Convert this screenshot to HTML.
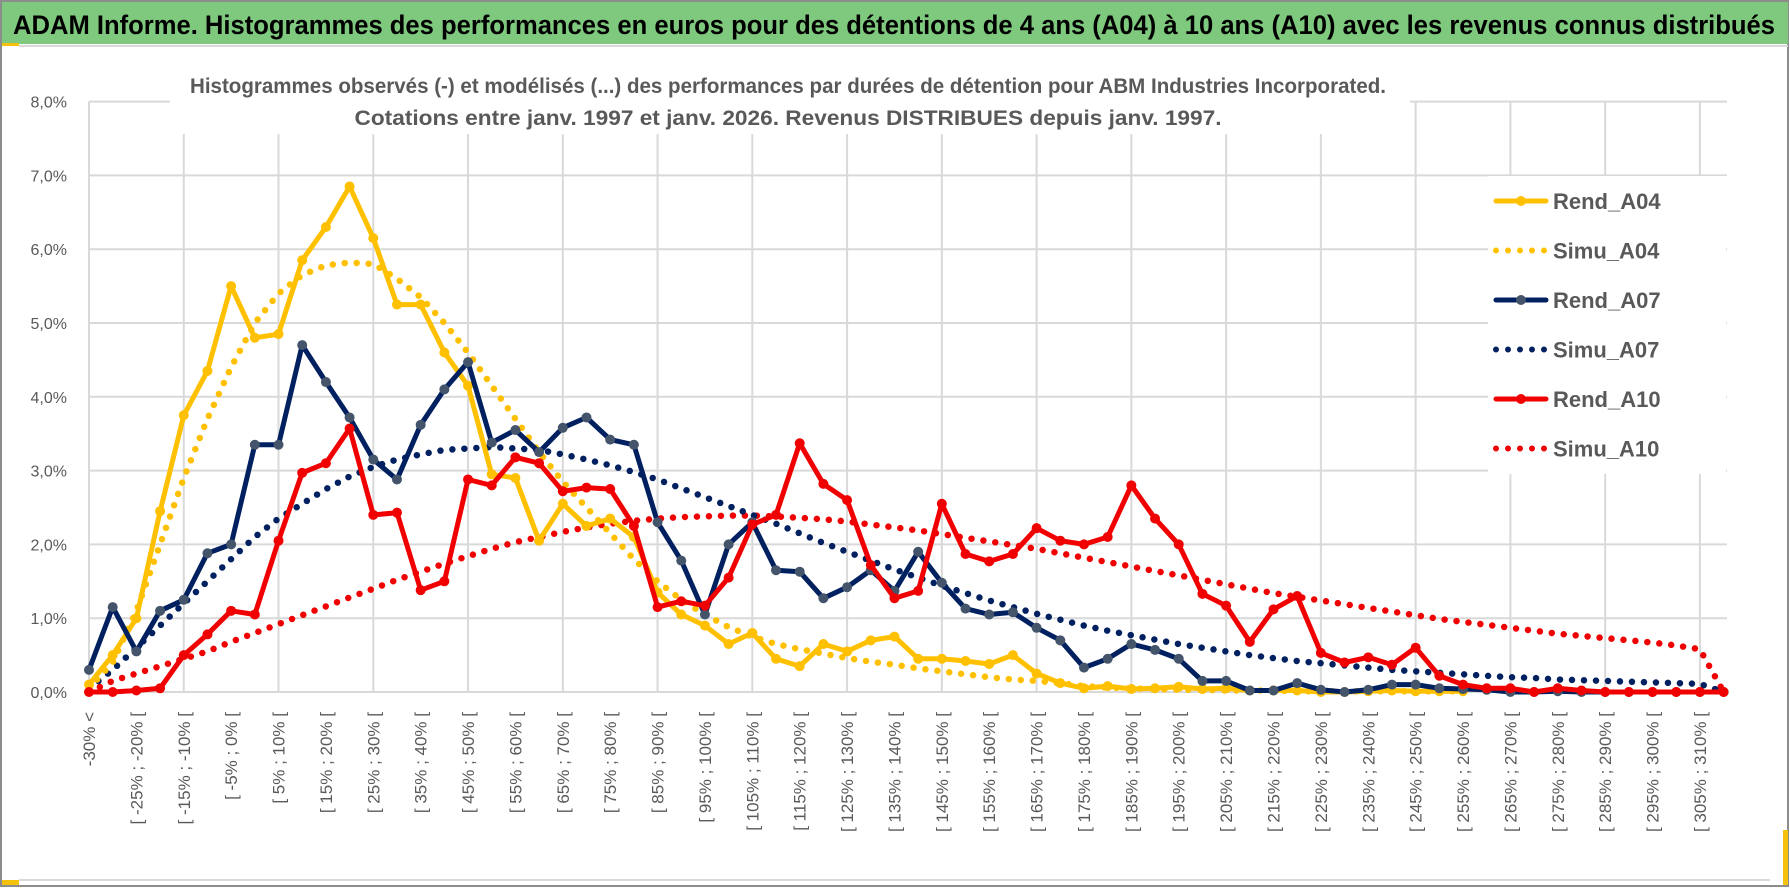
<!DOCTYPE html>
<html><head><meta charset="utf-8"><style>
body{margin:0;background:#fff;}
svg{display:block;font-family:"Liberation Sans",sans-serif;}
</style></head><body>
<svg id="chart" width="1790" height="888" viewBox="0 0 1790 888">
<rect x="0" y="0" width="1790" height="888" fill="#fff"/>
<rect x="1" y="1" width="1787" height="885" fill="none" stroke="#8c8c8c" stroke-width="2"/>
<rect x="2" y="2" width="1786" height="42" fill="#7fc97f"/>
<rect x="2" y="43" width="17" height="3" fill="#f4c20d"/>
<line x1="19" y1="46" x2="1788" y2="46" stroke="#d9d9d9" stroke-width="2"/>
<text x="13" y="34" font-size="27" font-weight="bold" fill="#000" textLength="1762" lengthAdjust="spacingAndGlyphs">ADAM Informe. Histogrammes des performances en euros pour des détentions de 4 ans (A04) à 10 ans (A10) avec les revenus connus distribués</text>
<line x1="19" y1="880" x2="1770" y2="880" stroke="#d9d9d9" stroke-width="2"/>
<rect x="2" y="880" width="17" height="5" fill="#f4c20d"/>
<rect x="1783" y="830" width="5" height="55" fill="#f4c20d"/>
<g id="grid"></g>
<g id="ylabels"></g>
<g id="xlabels"></g>
<rect x="170" y="66" width="1240" height="68" fill="#fff"/>
<text x="788" y="93" font-size="21" font-weight="bold" fill="#595959" text-anchor="middle" textLength="1196" lengthAdjust="spacingAndGlyphs">Histogrammes observés (-) et modélisés (...) des performances par durées de détention pour ABM Industries Incorporated.</text>
<text x="788" y="125" font-size="21" font-weight="bold" fill="#595959" text-anchor="middle" textLength="867" lengthAdjust="spacingAndGlyphs">Cotations entre janv. 1997 et janv. 2026. Revenus DISTRIBUES depuis janv. 1997.</text>
<g id="series"></g>
<g id="legend"></g>
</svg>
<script>
const categoriesCount = 70;
const yTicks = [0,1,2,3,4,5,6,7,8];
const rendA04 = [0.1,0.5,1.0,2.45,3.75,4.35,5.5,4.8,4.85,5.85,6.3,6.85,6.15,5.25,5.25,4.6,4.15,2.95,2.9,2.05,2.55,2.25,2.35,2.1,1.35,1.05,0.9,0.65,0.8,0.45,0.35,0.65,0.55,0.7,0.75,0.45,0.45,0.42,0.38,0.5,0.25,0.12,0.05,0.08,0.04,0.05,0.07,0.04,0.05,0.02,0.02,0.02,0,0,0.01,0.02,0.01,0.01,0.01];
const simuA04 = [0.05,0.4,1.1,2.0,2.9,3.7,4.4,5.0,5.4,5.65,5.78,5.82,5.8,5.6,5.35,5.0,4.6,4.15,3.7,3.25,2.85,2.5,2.15,1.8,1.5,1.25,1.05,0.88,0.75,0.65,0.58,0.52,0.46,0.41,0.37,0.32,0.28,0.24,0.2,0.17,0.15,0.12,0.08,0.06,0.05,0.04,0.03,0.03,0.02,0.02,0.02,0.01,0.01,0.01,0.01,0.01,0.01,0.01,0.01];
const rendA07 = [0.3,1.15,0.55,1.1,1.25,1.88,2.0,3.35,3.35,4.7,4.2,3.72,3.15,2.88,3.62,4.1,4.47,3.38,3.55,3.25,3.58,3.72,3.42,3.35,2.3,1.78,1.05,2.0,2.3,1.65,1.63,1.27,1.42,1.65,1.37,1.9,1.48,1.13,1.05,1.08,0.87,0.7,0.33,0.45,0.65,0.57,0.45,0.15,0.15,0.02,0.02,0.12,0.03,0,0.03,0.1,0.1,0.05,0.04,0.03,0,0,0.01,0,0,0,0,0,0,0];
const simuA07 = [0.05,0.3,0.6,0.9,1.2,1.5,1.8,2.1,2.35,2.55,2.75,2.92,3.05,3.15,3.22,3.28,3.3,3.32,3.3,3.28,3.22,3.15,3.07,2.98,2.88,2.76,2.64,2.52,2.4,2.28,2.15,2.02,1.9,1.78,1.66,1.55,1.44,1.34,1.24,1.15,1.06,0.98,0.9,0.83,0.77,0.71,0.65,0.6,0.55,0.5,0.46,0.42,0.39,0.36,0.33,0.3,0.28,0.26,0.24,0.22,0.2,0.19,0.17,0.16,0.15,0.14,0.13,0.12,0.11,0];
const rendA10 = [0,0,0.02,0.05,0.5,0.78,1.1,1.05,2.05,2.97,3.1,3.57,2.4,2.43,1.38,1.5,2.88,2.8,3.18,3.1,2.72,2.77,2.75,2.25,1.15,1.23,1.17,1.55,2.27,2.4,3.37,2.82,2.6,1.72,1.27,1.37,2.55,1.87,1.77,1.87,2.22,2.05,2.0,2.1,2.8,2.35,2.0,1.33,1.17,0.68,1.12,1.3,0.53,0.4,0.47,0.37,0.6,0.22,0.1,0.05,0.05,0,0.05,0.02,0,0,0,0,0,0];
const simuA10 = [0,0.15,0.25,0.35,0.45,0.55,0.68,0.8,0.92,1.04,1.16,1.28,1.4,1.52,1.63,1.74,1.84,1.94,2.03,2.1,2.17,2.23,2.28,2.32,2.35,2.37,2.38,2.39,2.39,2.38,2.36,2.34,2.31,2.27,2.23,2.19,2.14,2.09,2.04,1.99,1.94,1.88,1.82,1.76,1.7,1.64,1.58,1.52,1.46,1.4,1.34,1.29,1.24,1.19,1.14,1.09,1.04,0.99,0.95,0.91,0.87,0.83,0.79,0.76,0.73,0.7,0.67,0.63,0.58,0];

const NS="http://www.w3.org/2000/svg";
const X0=89, STEP=23.69, Y0=692, YU=73.8, XR=1727;
const xs=i=>X0+i*STEP, ys=v=>Y0-v*YU;
function mk(tag,attrs,parent){const e=document.createElementNS(NS,tag);for(const k in attrs)e.setAttribute(k,attrs[k]);parent.appendChild(e);return e;}
function label(k){if(k===0)return "-30% <";const a=-35+5*k;return "[ "+a+"% ; "+(a+5)+"% [";}

const grid=document.getElementById('grid');
yTicks.forEach(t=>{
  const l=mk('line',{x1:X0,x2:XR,y1:ys(t),y2:ys(t),stroke:'#d9d9d9','stroke-width':2},grid);
  
  
  const tx=mk('text',{x:67,y:ys(t)+6,'font-size':16,fill:'#595959','text-anchor':'end'},document.getElementById('ylabels'));
  tx.textContent=t.toFixed(1).replace('.',',')+'%';
  
  
});
for(let i=0;i<categoriesCount;i+=4){
  const l=mk('line',{x1:xs(i),x2:xs(i),y1:ys(8),y2:Y0,stroke:'#d9d9d9','stroke-width':2},grid);
  
  
}
const xl=document.getElementById('xlabels');
for(let i=0;i<categoriesCount-1;i+=2){
  const x=xs(i)+6, y=712;
  const t=mk('text',{x:x,y:y,'font-size':17,fill:'#595959','text-anchor':'end',transform:`rotate(-90 ${x} ${y})`},xl);
  t.textContent=label(i);
  
  
}
const S=document.getElementById('series');
function dotted(data,color,name){
  const pts=data.map((v,i)=>xs(i).toFixed(1)+','+ys(v).toFixed(1)).join(' ');
  const p=mk('polyline',{points:pts,fill:'none',stroke:color,'stroke-width':6.5,'stroke-linecap':'round','stroke-dasharray':'0 12'},S);
  
  
}
function solid(data,color,mcolor,name){
  const g=mk('g',{},S);
  
  
  const pts=data.map((v,i)=>xs(i).toFixed(1)+','+ys(v).toFixed(1)).join(' ');
  mk('polyline',{points:pts,fill:'none',stroke:color,'stroke-width':5,'stroke-linejoin':'round'},g);
  data.forEach((v,i)=>{
    const c=mk('circle',{cx:xs(i),cy:ys(v),r:5,fill:mcolor},g);
    
    
  });
}
dotted(simuA10,'#f00000','simu-a10-line');
dotted(simuA07,'#002060','simu-a07-line');
dotted(simuA04,'#ffc000','simu-a04-line');
solid(rendA04,'#ffc000','#ffc000','rend-a04-line');
solid(rendA07,'#002060','#44546a','rend-a07-line');
solid(rendA10,'#f00000','#f00000','rend-a10-line');

const L=document.getElementById('legend');
mk('rect',{x:1488,y:176,width:238,height:298,fill:'#fff'},L);
const entries=[['Rend_A04','#ffc000','#ffc000',false],['Simu_A04','#ffc000',null,true],['Rend_A07','#002060','#44546a',false],['Simu_A07','#002060',null,true],['Rend_A10','#f00000','#f00000',false],['Simu_A10','#f00000',null,true]];
entries.forEach((e,k)=>{
  const y=201+k*49.5;
  const g=mk('g',{},L);
  
  
  if(e[3]){mk('line',{x1:1496,x2:1546,y1:y,y2:y,stroke:e[1],'stroke-width':6,'stroke-linecap':'round','stroke-dasharray':'0 12'},g);}
  else{mk('line',{x1:1496,x2:1546,y1:y,y2:y,stroke:e[1],'stroke-width':5,'stroke-linecap':'round'},g);mk('circle',{cx:1521,cy:y,r:5,fill:e[2]},g);}
  const t=mk('text',{x:1553,y:y+8,'font-size':22,'font-weight':'bold',fill:'#595959'},g);
  t.textContent=e[0];
});
</script>
</body></html>
